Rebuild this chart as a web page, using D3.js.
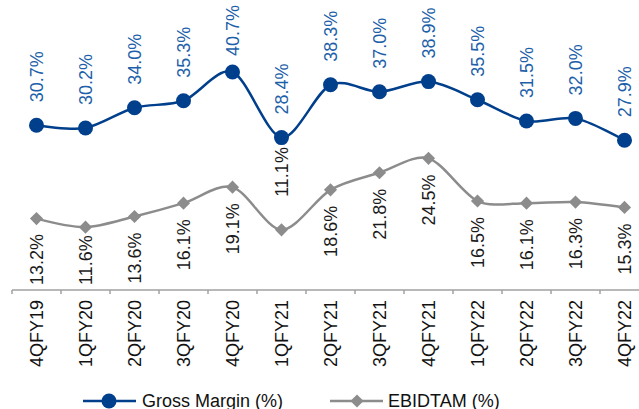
<!DOCTYPE html>
<html>
<head>
<meta charset="utf-8">
<script src="https://cdn.jsdelivr.net/npm/d3@7/dist/d3.min.js"></script>
<style>
  html, body { margin: 0; padding: 0; background: #fff; }
  svg { display: block; font-family: "Liberation Sans", Arial, sans-serif; }
</style>
</head>
<body>
<svg id="chart" width="639" height="409"></svg>
<script>
// Quarterly margins
const quarters = ["4QFY19","1QFY20","2QFY20","3QFY20","4QFY20","1QFY21","2QFY21","3QFY21","4QFY21","1QFY22","2QFY22","3QFY22","4QFY22"];
const grossMargin = [30.7, 30.2, 34.0, 35.3, 40.7, 28.4, 38.3, 37.0, 38.9, 35.5, 31.5, 32.0, 27.9];
const ebitdaMargin = [13.2, 11.6, 13.6, 16.1, 19.1, 11.1, 18.6, 21.8, 24.5, 16.5, 16.1, 16.3, 15.3];
const seriesNames = ["Gross Margin (%)", "EBIDTAM (%)"];

const blue = "#003f8c", blueLabel = "#1d5fa9", grey = "#8c8c8c";
const svg = d3.select("#chart");

const x = d3.scaleBand().domain(quarters).range([12, 12 + 49 * quarters.length]).padding(0);
const y = d3.scaleLinear().domain([0, 40.7]).range([289, 72]);
const cx = d => x(d) + x.bandwidth() / 2;

// category axis: baseline with ticks on band boundaries
const axisY = 290;
const axisG = svg.append("g");
axisG.append("line").attr("x1", 12).attr("x2", 639).attr("y1", axisY).attr("y2", axisY)
  .attr("stroke", "#a0a0a0").attr("stroke-width", 1.5);
axisG.selectAll("line.tick").data(quarters).join("line").attr("class", "tick")
  .attr("x1", d => x(d)).attr("x2", d => x(d))
  .attr("y1", axisY).attr("y2", axisY + 4)
  .attr("stroke", "#a0a0a0").attr("stroke-width", 1.5);
axisG.selectAll("text").data(quarters).join("text")
  .attr("transform", d => `translate(${cx(d)},${axisY + 10}) rotate(-90)`)
  .attr("text-anchor", "end").attr("dy", "0.35em")
  .attr("font-size", 18).attr("fill", "#111").text(d => d);

const line = d3.line().curve(d3.curveCardinal.tension(0.1))
  .x(d => cx(d.q)).y(d => y(d.v));

const gm = quarters.map((q, i) => ({ q, v: grossMargin[i] }));
const eb = quarters.map((q, i) => ({ q, v: ebitdaMargin[i] }));

// EBITDA margin series
svg.append("path").datum(eb).attr("d", line)
  .attr("fill", "none").attr("stroke", grey).attr("stroke-width", 2.5);
svg.selectAll("path.dia").data(eb).join("path").attr("class", "dia")
  .attr("d", d3.symbol(d3.symbolDiamond2, 110))
  .attr("transform", d => `translate(${cx(d.q)},${y(d.v)})`)
  .attr("fill", grey);

// Gross margin series
svg.append("path").datum(gm).attr("d", line)
  .attr("fill", "none").attr("stroke", blue).attr("stroke-width", 2.5);
svg.selectAll("circle.gm").data(gm).join("circle").attr("class", "gm")
  .attr("cx", d => cx(d.q)).attr("cy", d => y(d.v)).attr("r", 7.5)
  .attr("fill", blue);

// value labels: gross margin above the point, kept inside the top edge
svg.selectAll("text.gml").data(gm).join("text").attr("class", "gml")
  .attr("dy", "0.35em").attr("font-size", 18).attr("fill", blueLabel)
  .text(d => d.v.toFixed(1) + "%")
  .attr("transform", function(d) {
    const len = this.getComputedTextLength();
    const bottom = Math.max(y(d.v) - 23, 5 + len);
    return `translate(${cx(d.q)},${bottom}) rotate(-90)`;
  });

// EBITDA labels below the point, kept above the axis; flipped above when they would cover the marker
svg.selectAll("text.ebl").data(eb).join("text").attr("class", "ebl")
  .attr("dy", "0.35em").attr("font-size", 18).attr("fill", "#1a1a1a")
  .text(d => d.v.toFixed(1) + "%")
  .attr("transform", function(d) {
    const len = this.getComputedTextLength();
    let bottom = y(d.v) + 16 + len;
    if (bottom > 285) bottom = 285;
    if (bottom - len < y(d.v) + 8) bottom = y(d.v) - 33;
    return `translate(${cx(d.q)},${bottom}) rotate(-90)`;
  });

// legend
const legY = 401;
const leg = svg.append("g");
leg.append("line").attr("x1", 83).attr("x2", 136).attr("y1", legY).attr("y2", legY)
  .attr("stroke", blue).attr("stroke-width", 2.5);
leg.append("circle").attr("cx", 109).attr("cy", legY).attr("r", 7.5).attr("fill", blue);
leg.append("text").attr("x", 142).attr("y", legY).attr("dy", "0.35em")
  .attr("font-size", 18).attr("fill", "#111").text(seriesNames[0]);
leg.append("line").attr("x1", 330).attr("x2", 383).attr("y1", legY).attr("y2", legY)
  .attr("stroke", grey).attr("stroke-width", 2.5);
leg.append("path").attr("d", d3.symbol(d3.symbolDiamond2, 110))
  .attr("transform", `translate(357,${legY})`).attr("fill", grey);
leg.append("text").attr("x", 388).attr("y", legY).attr("dy", "0.35em")
  .attr("font-size", 18).attr("fill", "#111").text(seriesNames[1]);
</script>
</body>
</html>
